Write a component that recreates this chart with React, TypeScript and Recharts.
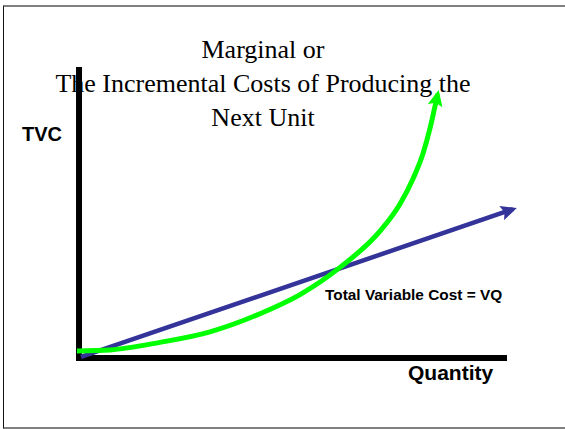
import { LineChart, Line, XAxis, YAxis, ReferenceArea } from "recharts";

// Total variable cost, straight line = VQ
const linearQ = [1.35, 98.65];
const linearTVC = [1.67, 50.6];

// Total variable cost with rising marginal cost
const curveQ = [0.45, 7.88, 19.14, 30.41, 41.67, 50.68, 59.68, 68.69, 73.2, 76.13, 78.38, 79.95, 81.08, 81.71];
const curveTVC = [3.67, 4.0, 6.5, 10.0, 16.0, 22.33, 31.33, 43.33, 52.33, 60.67, 69.0, 77.33, 84.67, 88.77];

const titleLines = ["Marginal or", "The Incremental Costs of Producing the", "Next Unit"];

const W = 565;
const H = 429;

export default function App() {
  const linear = linearQ.map((q, i) => ({ q, tvc: linearTVC[i] }));
  const curve = curveQ.map((q, i) => ({ q, tvc: curveTVC[i] }));

  return (
    <div style={{ position: "absolute", left: 0, top: 0, width: W, height: H, background: "#fff" }}>
      {/* slide frame */}
      <div
        style={{
          position: "absolute",
          left: 3,
          top: 5,
          width: W - 3,
          height: 424,
          boxSizing: "border-box",
          borderTop: "2px solid #808080",
          borderBottom: "2px solid #808080",
          borderLeft: "1px solid #111",
        }}
      />
      <LineChart
        width={W}
        height={H}
        margin={{ top: 60, right: 46, bottom: 67, left: 75 }}
        style={{ position: "absolute", left: 0, top: 0 }}
      >
        <defs>
          <marker id="blueArrow" viewBox="0 0 16 15" markerWidth={16} markerHeight={15} refX={12} refY={7.5} orient="auto" markerUnits="userSpaceOnUse">
            <path d="M0,0 L16,7.5 L0,15 L3,7.5 z" fill="#333399" />
          </marker>
          <marker id="greenArrow" viewBox="0 0 16 15" markerWidth={16} markerHeight={15} refX={12} refY={7.5} orient="auto" markerUnits="userSpaceOnUse">
            <path d="M0,0 L16,7.5 L0,15 L3,7.5 z" fill="#00ff00" />
          </marker>
        </defs>
        {titleLines.map((t, i) => (
          <text
            key={t}
            x={263}
            y={58 + i * 34}
            textAnchor="middle"
            fontFamily="'Liberation Serif', 'Times New Roman', serif"
            fontSize={26}
            fill="#000"
          >
            {t}
          </text>
        ))}
        <text x={22} y={141} fontFamily="'Liberation Sans', Arial, sans-serif" fontWeight="bold" fontSize={20} fill="#000">
          TVC
        </text>
        <text x={408} y={380} fontFamily="'Liberation Sans', Arial, sans-serif" fontWeight="bold" fontSize={21} fill="#000">
          Quantity
        </text>
        <text x={325} y={300} fontFamily="'Liberation Sans', Arial, sans-serif" fontWeight="bold" fontSize={15.4} fill="#000">
          Total Variable Cost = VQ
        </text>
        <XAxis type="number" dataKey="q" domain={[0, 100]} hide allowDataOverflow />
        <YAxis type="number" domain={[0, 100]} hide allowDataOverflow />
        <ReferenceArea x1={0.23} x2={1.58} y1={0.33} y2={97.67} fill="#000" fillOpacity={1} stroke="none" ifOverflow="visible" />
        <ReferenceArea x1={0.23} x2={97.3} y1={0.33} y2={2.33} fill="#000" fillOpacity={1} stroke="none" ifOverflow="visible" />
        <Line
          data={linear}
          dataKey="tvc"
          type="linear"
          stroke="#333399"
          strokeWidth={4.5}
          dot={false}
          activeDot={false}
          isAnimationActive={false}
          markerEnd="url(#blueArrow)"
        />
        <Line
          data={curve}
          dataKey="tvc"
          type="monotone"
          stroke="#00ff00"
          strokeWidth={5}
          dot={false}
          activeDot={false}
          isAnimationActive={false}
          markerEnd="url(#greenArrow)"
        />
      </LineChart>
    </div>
  );
}
